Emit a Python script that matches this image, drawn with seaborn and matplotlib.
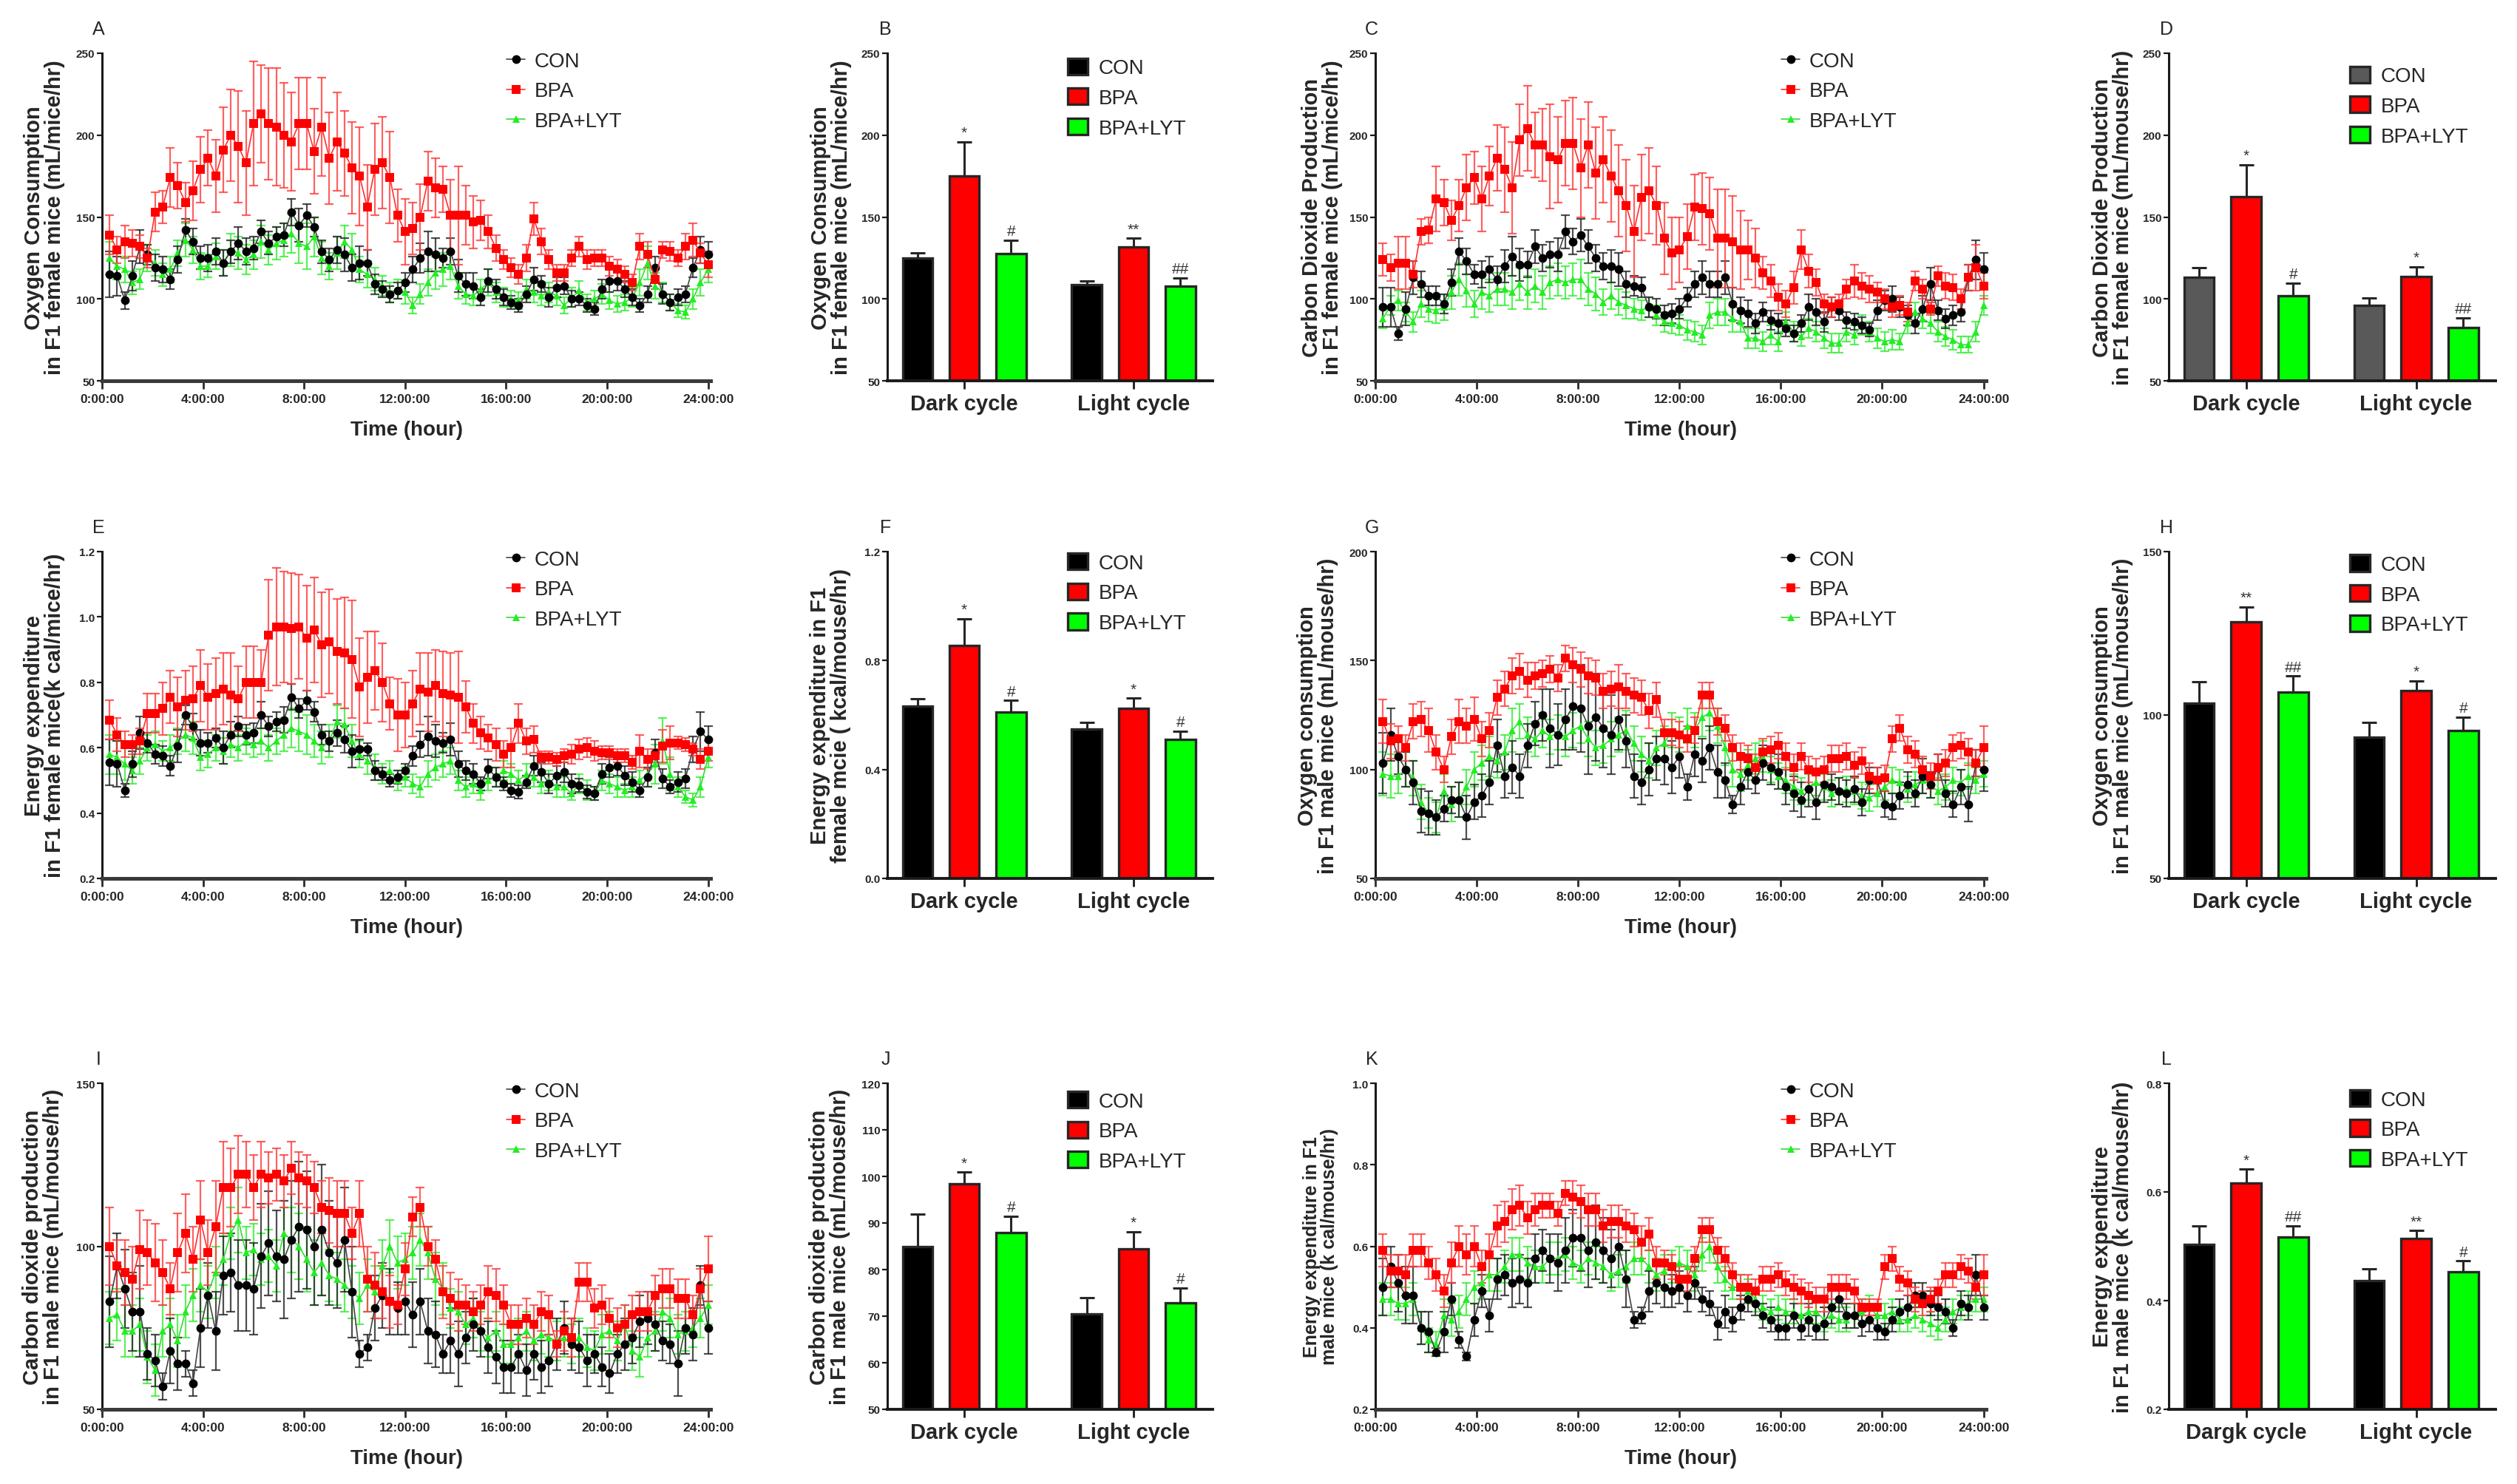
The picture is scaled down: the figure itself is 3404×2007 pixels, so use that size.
import numpy as np
import pandas as pd
import seaborn as sns
import matplotlib.pyplot as plt

sns.set_style('ticks')
plt.rcParams['font.family'] = ['Liberation Sans', 'DejaVu Sans']

groups = ['CON', 'BPA', 'BPA+LYT']
cycles = ['Dark cycle', 'Light cycle']
time_ticks = [0, 4, 8, 12, 16, 20, 24]
time_labels = ['0:00:00', '4:00:00', '8:00:00', '12:00:00', '16:00:00', '20:00:00', '24:00:00']

# sampling clock: one reading every 18 min over 24 h
hours = np.round(np.arange(1, 81) * 0.3, 1)

# ---- A: oxygen consumption, F1 female (mL/mice/hr) ----
a_con = [115,114,99,114,132,127,119,118,112,124,142,135,125,125,129,122,129,134,129,131,
         141,134,138,139,153,145,151,144,129,124,130,127,119,122,122,109,106,103,105,110,
         118,125,129,127,125,129,114,109,108,101,111,106,101,98,96,103,112,109,101,107,
         108,100,100,96,94,106,111,111,106,101,96,103,119,103,98,101,103,119,130,127]
a_con_err = [14,12,5,9,10,6,8,8,6,8,7,8,7,8,8,8,7,10,8,7,
             7,7,6,7,8,10,7,6,7,7,8,10,8,10,8,6,5,5,5,6,
             8,9,12,10,6,8,10,7,8,5,7,6,5,4,4,5,7,5,6,6,
             5,5,4,4,4,6,7,6,5,5,4,5,7,6,5,5,5,6,8,8]
a_bpa = [139,130,135,134,132,125,153,156,174,169,159,166,179,186,175,191,200,193,183,207,
         213,207,205,200,196,207,207,190,205,186,196,189,180,175,156,179,183,174,151,141,
         143,150,172,168,167,151,151,151,147,148,141,131,124,119,115,125,149,135,124,116,
         116,125,132,124,125,125,120,118,115,110,132,127,112,130,129,125,132,136,128,121]
a_bpa_err = [12,8,10,8,7,6,12,10,18,14,12,18,20,17,22,26,28,34,32,38,
             30,34,36,32,30,28,28,26,30,28,30,26,28,30,26,28,28,28,16,20,
             16,20,18,18,14,22,30,18,16,12,10,8,6,6,6,8,10,8,6,5,
             5,5,6,6,5,5,6,6,5,5,8,8,6,5,6,5,8,10,6,8]
a_lyt = [125,120,118,110,112,125,122,115,118,128,136,130,120,120,126,122,130,128,124,127,
         135,130,134,136,140,134,132,138,125,120,128,135,130,118,115,112,108,104,106,104,
         96,103,110,116,118,120,108,103,102,106,110,104,101,100,99,106,104,102,104,102,
         96,101,105,98,100,103,99,97,98,101,110,122,108,104,98,93,92,100,110,118]
a_lyt_err = [10,8,8,7,6,8,8,7,8,8,10,8,8,7,8,8,10,10,9,9,
             10,9,10,10,12,12,14,12,10,8,10,10,10,8,8,7,6,6,6,7,
             5,6,8,10,10,8,8,6,6,6,8,6,6,5,5,6,6,6,6,6,
             5,6,6,5,5,6,5,5,5,6,8,10,8,6,5,4,4,6,8,8]

# ---- C: carbon dioxide production, F1 female ----
c_con = [95,95,79,94,113,109,102,102,97,110,129,123,115,115,118,112,120,126,121,121,
         132,125,127,127,141,135,139,132,125,120,120,118,109,108,107,95,94,90,91,94,
         101,109,113,109,109,113,97,93,91,85,92,87,85,82,79,85,95,92,86,95,
         93,87,86,84,81,93,99,100,95,90,85,94,109,93,88,90,92,113,124,118]
c_con_err = [12,12,4,10,10,8,6,6,6,8,8,8,6,8,8,8,10,12,10,8,
             10,8,8,10,10,8,10,10,8,8,10,10,8,6,6,6,6,6,6,6,
             6,8,10,8,8,10,10,8,8,6,6,6,6,5,5,5,8,8,6,6,
             6,5,5,5,4,6,6,8,6,6,6,8,10,6,6,6,6,8,12,10]
c_bpa = [124,119,122,122,115,141,142,161,159,148,157,168,174,161,175,186,179,168,197,204,
         194,194,187,185,195,195,180,194,177,185,175,166,157,141,162,166,157,137,128,130,
         138,156,155,152,137,137,135,130,130,125,116,111,101,97,107,130,117,110,97,95,
         97,106,111,108,106,104,100,95,96,92,111,106,94,114,108,107,100,113,119,108]
c_bpa_err = [10,8,16,16,8,8,8,20,14,12,16,20,16,20,18,20,26,28,22,26,
             20,22,32,26,26,28,30,26,28,26,28,28,28,28,26,26,24,22,22,20,
             20,20,22,22,30,30,28,24,18,18,10,10,8,8,10,12,10,8,6,6,
             6,6,10,8,8,6,6,6,6,6,6,6,4,6,8,8,6,8,14,8]
c_lyt = [88,96,99,92,86,97,94,93,95,104,112,105,97,104,102,106,106,104,109,104,
         108,104,110,112,110,112,112,106,103,98,102,98,96,94,93,95,90,86,85,84,
         81,80,78,90,92,92,88,86,76,76,74,78,74,86,80,77,82,80,76,73,
         73,80,78,84,80,76,74,75,74,85,92,88,85,80,77,75,72,72,80,96]
c_lyt_err = [6,6,6,6,6,8,8,8,8,10,10,10,8,10,10,10,10,10,10,10,
             10,10,10,10,10,10,12,10,10,8,8,8,8,6,6,6,6,6,6,6,
             6,6,6,8,8,8,8,6,6,6,6,6,6,6,6,6,6,6,6,6,
             6,6,6,6,6,6,6,6,5,6,6,6,6,6,6,6,5,5,6,6]

# ---- E: energy expenditure, F1 female (k cal/mice/hr) ----
e_con = [0.555,0.55,0.47,0.55,0.645,0.615,0.58,0.575,0.545,0.605,0.70,0.665,0.615,0.615,0.63,0.60,0.64,0.665,0.64,0.645,
         0.70,0.665,0.68,0.685,0.755,0.72,0.745,0.71,0.64,0.62,0.645,0.625,0.59,0.595,0.595,0.53,0.52,0.50,0.51,0.53,
         0.575,0.61,0.635,0.62,0.615,0.625,0.55,0.53,0.52,0.49,0.535,0.51,0.49,0.47,0.465,0.495,0.545,0.525,0.49,0.515,
         0.525,0.49,0.485,0.465,0.46,0.52,0.54,0.545,0.515,0.495,0.47,0.51,0.585,0.505,0.48,0.495,0.505,0.595,0.65,0.625]
e_con_err = [0.07,0.07,0.02,0.04,0.05,0.03,0.03,0.03,0.03,0.05,0.03,0.04,0.04,0.03,0.03,0.05,0.04,0.03,0.03,0.03,
             0.04,0.03,0.03,0.04,0.04,0.03,0.03,0.03,0.03,0.03,0.04,0.04,0.05,0.03,0.02,0.03,0.02,0.02,0.02,0.02,
             0.03,0.04,0.06,0.05,0.03,0.05,0.04,0.03,0.03,0.02,0.03,0.03,0.02,0.02,0.02,0.02,0.03,0.03,0.03,0.03,
             0.03,0.03,0.02,0.02,0.02,0.03,0.03,0.03,0.03,0.03,0.02,0.03,0.04,0.03,0.02,0.03,0.03,0.04,0.06,0.04]
e_bpa = [0.685,0.64,0.61,0.61,0.62,0.705,0.705,0.72,0.755,0.725,0.745,0.75,0.79,0.755,0.765,0.78,0.76,0.75,0.80,0.80,
         0.80,0.945,0.97,0.97,0.965,0.97,0.935,0.96,0.915,0.925,0.895,0.89,0.87,0.785,0.815,0.835,0.80,0.735,0.70,0.70,
         0.735,0.78,0.77,0.79,0.765,0.76,0.755,0.725,0.675,0.645,0.63,0.61,0.58,0.60,0.675,0.62,0.625,0.57,0.57,0.565,
         0.575,0.58,0.595,0.60,0.59,0.585,0.585,0.575,0.575,0.555,0.59,0.565,0.575,0.605,0.615,0.615,0.61,0.595,0.565,0.59]
e_bpa_err = [0.06,0.05,0.04,0.03,0.04,0.06,0.06,0.08,0.08,0.09,0.09,0.10,0.11,0.10,0.11,0.11,0.13,0.10,0.11,0.11,
             0.10,0.17,0.18,0.17,0.17,0.16,0.16,0.16,0.16,0.16,0.16,0.17,0.18,0.15,0.14,0.12,0.12,0.08,0.11,0.10,
             0.10,0.11,0.12,0.11,0.13,0.13,0.14,0.08,0.06,0.05,0.04,0.05,0.04,0.06,0.06,0.04,0.04,0.02,0.02,0.02,
             0.02,0.03,0.03,0.03,0.03,0.02,0.02,0.02,0.02,0.02,0.05,0.03,0.02,0.05,0.05,0.02,0.02,0.02,0.03,0.03]
e_lyt = [0.58,0.57,0.55,0.53,0.56,0.60,0.61,0.59,0.60,0.62,0.64,0.63,0.57,0.58,0.60,0.59,0.61,0.60,0.62,0.61,
         0.62,0.60,0.62,0.64,0.66,0.65,0.64,0.62,0.60,0.62,0.68,0.67,0.62,0.58,0.56,0.54,0.52,0.53,0.50,0.51,
         0.49,0.48,0.52,0.54,0.55,0.56,0.50,0.48,0.49,0.47,0.50,0.51,0.53,0.52,0.50,0.52,0.51,0.49,0.50,0.48,
         0.48,0.46,0.49,0.47,0.46,0.50,0.49,0.48,0.47,0.48,0.50,0.52,0.55,0.62,0.52,0.48,0.45,0.44,0.48,0.57]
e_lyt_err = [0.06,0.05,0.05,0.04,0.04,0.04,0.04,0.03,0.04,0.04,0.05,0.05,0.04,0.04,0.04,0.04,0.04,0.04,0.04,0.04,
             0.04,0.04,0.04,0.05,0.06,0.06,0.06,0.05,0.05,0.05,0.05,0.05,0.05,0.04,0.04,0.04,0.03,0.03,0.03,0.03,
             0.03,0.03,0.04,0.04,0.04,0.04,0.03,0.03,0.03,0.03,0.03,0.03,0.03,0.03,0.03,0.03,0.03,0.03,0.03,0.03,
             0.03,0.02,0.03,0.03,0.02,0.03,0.03,0.03,0.02,0.03,0.03,0.04,0.06,0.07,0.05,0.03,0.02,0.02,0.03,0.03]

# ---- G: oxygen consumption, F1 male (mL/mouse/hr) ----
g_con = [103,116,106,100,94,81,80,78,82,86,86,78,85,88,94,111,97,101,97,111,
         121,125,119,116,123,129,128,120,124,119,116,123,113,97,94,100,105,105,101,106,
         92,107,104,110,99,95,84,92,99,95,103,101,99,92,89,86,91,85,93,92,
         90,89,91,85,95,95,84,83,88,93,89,97,93,101,89,84,92,84,103,100]
g_con_err = [14,12,8,8,10,10,10,8,6,6,8,10,8,10,10,12,10,12,10,10,
             10,12,18,14,14,20,20,22,20,18,18,14,12,10,10,12,10,12,12,10,
             6,10,10,10,12,8,4,8,8,6,8,8,8,8,8,8,8,8,8,6,
             6,6,6,6,6,6,6,6,6,6,6,8,6,6,6,6,8,8,6,10]
g_bpa = [122,113,114,110,122,123,118,108,100,115,122,120,123,114,118,133,137,143,145,141,
         143,144,146,142,151,148,146,143,142,136,137,138,136,134,133,127,132,117,117,116,
         114,118,134,134,122,119,110,106,105,101,108,109,111,106,101,106,100,99,100,105,
         105,106,102,104,97,95,96,114,119,109,107,100,97,101,103,110,111,108,103,110]
g_bpa_err = [10,8,6,6,8,8,10,8,6,8,10,8,10,8,8,8,8,8,8,8,
             6,6,6,6,6,8,8,8,8,8,8,10,8,8,8,8,8,6,6,6,
             6,6,6,6,6,6,6,6,6,6,6,6,6,6,6,6,6,6,6,6,
             6,6,6,6,6,6,6,6,6,6,6,6,6,6,6,6,6,6,6,10]
g_lyt = [98,97,97,100,96,85,80,78,90,84,86,92,100,103,106,104,108,118,122,116,
         114,118,115,117,115,118,120,114,110,111,114,116,118,112,107,104,110,112,118,116,
         120,118,124,126,120,110,100,98,102,105,106,100,97,95,92,90,92,94,92,89,
         90,91,90,88,87,89,92,95,94,91,93,95,93,90,92,95,94,97,95,98]
g_lyt_err = [10,10,8,8,8,8,7,7,8,8,8,8,8,8,9,8,8,10,8,8,
             8,8,8,8,9,8,8,8,8,8,8,8,9,8,8,8,8,8,8,8,
             8,8,9,8,8,8,8,8,7,7,7,6,6,6,6,6,6,6,6,6,
             6,6,6,6,6,6,6,6,6,6,6,6,6,6,6,6,6,6,6,6]

# ---- I: carbon dioxide production, F1 male ----
i_con = [83,94,87,80,80,67,65,57,68,64,64,58,75,85,74,91,92,88,88,87,
         97,101,97,96,102,106,105,100,105,98,95,102,86,67,69,81,85,83,81,83,
         79,83,74,73,67,71,67,72,76,74,69,66,63,63,67,62,67,63,65,70,
         75,70,69,65,67,63,61,67,70,72,77,78,76,71,70,64,75,73,88,75]
i_con_err = [14,10,12,12,14,8,8,4,10,8,4,4,12,10,12,12,12,14,14,14,
             16,16,14,18,18,20,18,18,20,16,14,16,14,4,4,10,10,10,8,10,
             10,10,10,10,6,10,10,8,8,8,8,8,8,8,6,8,8,8,8,8,
             8,8,8,8,6,6,6,6,8,8,8,8,8,6,6,10,8,8,6,8]
i_bpa = [100,94,92,90,99,98,95,92,87,98,104,96,108,98,106,118,118,122,122,118,
         122,121,122,120,124,121,120,118,112,111,110,110,104,110,90,88,86,83,82,93,
         109,112,100,96,86,84,82,82,80,82,86,85,82,76,76,78,76,80,79,70,
         74,72,89,89,81,82,78,75,76,79,80,80,85,87,87,84,84,79,87,93]
i_bpa_err = [12,8,10,10,12,10,12,10,8,12,12,10,12,10,14,14,12,12,10,10,
             10,8,8,8,8,8,8,8,8,10,10,10,8,10,10,10,8,8,6,8,
             6,6,6,6,8,8,8,6,6,6,8,8,6,6,6,6,6,6,6,4,
             6,6,6,6,6,6,6,6,6,6,6,6,6,6,6,6,6,6,6,10]
i_lyt = [78,79,74,74,76,66,62,74,76,71,80,85,88,86,92,96,104,108,98,99,
         96,97,94,104,102,100,96,92,95,91,90,88,86,84,88,86,94,100,95,96,
         98,102,98,90,87,81,80,76,78,74,72,74,70,70,72,74,71,73,72,71,
         72,70,72,69,68,73,74,71,76,68,66,72,74,80,78,73,74,75,78,82]
i_lyt_err = [8,8,8,8,8,8,8,8,8,8,8,8,8,8,8,8,8,10,8,8,
             8,8,8,8,10,10,10,10,10,8,8,8,8,8,8,8,8,8,8,8,
             8,8,8,8,8,6,6,6,6,6,6,6,6,6,6,6,6,6,6,6,
             6,6,6,6,6,6,6,6,6,6,6,6,6,6,6,6,6,6,6,6]

# ---- K: energy expenditure, F1 male (k cal/mouse/hr) ----
k_con = [0.50,0.55,0.51,0.48,0.48,0.40,0.39,0.34,0.39,0.47,0.37,0.33,0.42,0.49,0.43,0.52,0.53,0.51,0.52,0.51,
         0.57,0.59,0.57,0.56,0.59,0.62,0.62,0.59,0.61,0.59,0.57,0.60,0.52,0.42,0.43,0.49,0.51,0.50,0.49,0.50,
         0.48,0.51,0.47,0.46,0.41,0.44,0.42,0.45,0.47,0.46,0.43,0.42,0.40,0.40,0.43,0.40,0.42,0.40,0.41,0.45,
         0.47,0.43,0.43,0.41,0.42,0.40,0.39,0.42,0.44,0.45,0.48,0.48,0.46,0.45,0.44,0.40,0.46,0.45,0.53,0.45]
k_con_err = [0.07,0.05,0.07,0.07,0.07,0.04,0.05,0.01,0.05,0.04,0.02,0.01,0.04,0.04,0.04,0.05,0.05,0.06,0.06,0.06,
             0.06,0.05,0.06,0.07,0.08,0.07,0.08,0.09,0.09,0.08,0.07,0.07,0.07,0.02,0.02,0.05,0.05,0.05,0.04,0.04,
             0.04,0.04,0.03,0.03,0.04,0.04,0.03,0.03,0.03,0.03,0.03,0.03,0.03,0.03,0.03,0.03,0.04,0.03,0.04,0.04,
             0.03,0.03,0.03,0.03,0.03,0.03,0.02,0.03,0.03,0.03,0.03,0.03,0.03,0.03,0.03,0.02,0.03,0.03,0.05,0.03]
k_bpa = [0.59,0.54,0.54,0.53,0.59,0.59,0.56,0.53,0.49,0.56,0.60,0.58,0.60,0.55,0.58,0.65,0.66,0.69,0.70,0.67,
         0.69,0.70,0.70,0.68,0.73,0.72,0.71,0.69,0.69,0.65,0.66,0.66,0.65,0.64,0.61,0.63,0.56,0.56,0.55,0.52,
         0.52,0.57,0.64,0.64,0.59,0.57,0.53,0.50,0.50,0.49,0.52,0.52,0.53,0.51,0.50,0.49,0.48,0.47,0.47,0.50,
         0.50,0.50,0.49,0.45,0.45,0.45,0.55,0.57,0.52,0.51,0.47,0.46,0.47,0.49,0.53,0.53,0.55,0.54,0.50,0.53]
k_bpa_err = [0.04,0.04,0.04,0.05,0.04,0.04,0.04,0.04,0.04,0.05,0.05,0.05,0.05,0.04,0.05,0.05,0.05,0.05,0.05,0.04,
             0.04,0.03,0.03,0.03,0.03,0.04,0.04,0.04,0.04,0.04,0.04,0.04,0.04,0.04,0.04,0.04,0.04,0.03,0.03,0.03,
             0.03,0.03,0.03,0.03,0.03,0.03,0.03,0.03,0.03,0.03,0.03,0.03,0.03,0.03,0.03,0.03,0.03,0.03,0.03,0.03,
             0.03,0.03,0.03,0.02,0.02,0.02,0.03,0.03,0.03,0.03,0.03,0.03,0.03,0.03,0.03,0.03,0.03,0.03,0.03,0.05]
k_lyt = [0.47,0.47,0.46,0.46,0.47,0.40,0.37,0.36,0.43,0.42,0.44,0.47,0.50,0.51,0.53,0.53,0.55,0.58,0.58,0.56,
         0.55,0.55,0.57,0.57,0.58,0.56,0.55,0.57,0.56,0.55,0.53,0.54,0.55,0.57,0.57,0.55,0.53,0.54,0.55,0.56,
         0.55,0.53,0.58,0.60,0.55,0.52,0.50,0.50,0.49,0.47,0.45,0.44,0.45,0.44,0.44,0.43,0.44,0.44,0.42,0.43,
         0.42,0.42,0.43,0.44,0.45,0.43,0.43,0.44,0.42,0.42,0.43,0.42,0.41,0.40,0.42,0.44,0.45,0.46,0.47,0.47]
k_lyt_err = [0.04,0.04,0.04,0.04,0.04,0.04,0.03,0.03,0.04,0.04,0.04,0.04,0.04,0.04,0.04,0.04,0.04,0.04,0.04,0.04,
             0.04,0.04,0.04,0.04,0.04,0.04,0.04,0.04,0.04,0.04,0.04,0.04,0.04,0.04,0.04,0.04,0.04,0.04,0.04,0.04,
             0.04,0.04,0.04,0.04,0.04,0.03,0.03,0.03,0.03,0.03,0.03,0.03,0.03,0.03,0.03,0.03,0.03,0.03,0.03,0.03,
             0.03,0.03,0.03,0.03,0.03,0.03,0.03,0.03,0.03,0.03,0.03,0.03,0.03,0.03,0.03,0.03,0.03,0.03,0.03,0.03]

# ---- bar panels: [dark, light] ----
b_con, b_con_err = [125, 108.5], [3, 2.5]
b_bpa, b_bpa_err = [175, 131.5], [21, 5.5]
b_lyt, b_lyt_err = [127.5, 107.7], [8.5, 5]
b_marks = [['', ''], ['*', '**'], ['#', '##']]

d_con, d_con_err = [113, 96], [6, 4.5]
d_bpa, d_bpa_err = [162.5, 113.5], [19.5, 6]
d_lyt, d_lyt_err = [102, 82.5], [7.7, 6]
d_marks = [['', ''], ['*', '*'], ['#', '##']]

f_con, f_con_err = [0.633, 0.548], [0.027, 0.024]
f_bpa, f_bpa_err = [0.856, 0.625], [0.098, 0.037]
f_lyt, f_lyt_err = [0.611, 0.511], [0.042, 0.03]
f_marks = [['', ''], ['*', '*'], ['#', '#']]

h_con, h_con_err = [103.6, 93.1], [6.5, 4.7]
h_bpa, h_bpa_err = [128.6, 107.4], [4.5, 3]
h_lyt, h_lyt_err = [107.1, 95.2], [4.8, 4.2]
h_marks = [['', ''], ['**', '*'], ['##', '#']]

j_con, j_con_err = [84.9, 70.5], [7, 3.5]
j_bpa, j_bpa_err = [98.4, 84.4], [2.5, 3.7]
j_lyt, j_lyt_err = [88, 72.9], [3.4, 3.1]
j_marks = [['', ''], ['*', '*'], ['#', '#']]

l_con, l_con_err = [0.503, 0.437], [0.034, 0.021]
l_bpa, l_bpa_err = [0.616, 0.514], [0.026, 0.015]
l_lyt, l_lyt_err = [0.517, 0.453], [0.021, 0.02]
l_marks = [['', ''], ['*', '**'], ['##', '#']]

W, H = 3404, 2008
fig = plt.figure(figsize=(W / 100, H / 100), dpi=100)

cols = [(138, 823), (1200, 440), (1860, 826), (2933, 442)]
rows = [(73, 443), (747, 442), (1466, 441)]


def make_ax(r, c):
    x, w = cols[c]
    top, h = rows[r]
    return fig.add_axes([x / W, 1 - (top + h) / H, w / W, h / H])


def style_y(ax, ylim, yticks, fmt, ylabel, lab_x, lab_size=21):
    ax.set_ylim(*ylim)
    ax.set_yticks(yticks, labels=[fmt.format(v) for v in yticks], fontsize=11, fontweight='bold')
    ax.set_ylabel(ylabel, fontsize=lab_size, fontweight='bold', linespacing=1.0)
    ax.yaxis.set_label_coords(lab_x, 0.5)
    sns.despine(ax=ax)
    ax.spines['left'].set_linewidth(2.2)
    ax.spines['left'].set_color('#1a1a1a')
    ax.tick_params(axis='y', length=5, width=1.6, pad=2, color='#1a1a1a')


def letter(ax, txt):
    ax.text(-0.006, 1.075, txt, transform=ax.transAxes, fontsize=18, ha='center', va='center')


series_style = {
    'CON': dict(line='#444444', face='black', marker='o', ms=8.5, ecol='#222222'),
    'BPA': dict(line='#ff3030', face='#ff0000', marker='s', ms=8, ecol='#ff3a3a'),
    'BPA+LYT': dict(line='#33dd33', face='#22ee22', marker='^', ms=7, ecol='#33ee33'),
}


def time_panel(ax, data, ylim, yticks, fmt, ylabel, lab_x, lab_size=21):
    # draw green first, then black, then red on top
    for z, name in enumerate(['BPA+LYT', 'CON', 'BPA']):
        vals, err = data[name]
        st = series_style[name]
        t = hours[:len(vals)]
        ax.errorbar(t, vals, yerr=err, fmt='none', ecolor=st['ecol'], elinewidth=1.6,
                    capsize=4, capthick=1.6, alpha=0.8, zorder=2 + z, clip_on=False)
        sns.lineplot(x=t, y=vals, ax=ax, color=st['line'], marker=st['marker'],
                     markersize=st['ms'], markerfacecolor=st['face'], markeredgecolor=st['face'],
                     markeredgewidth=0, linewidth=1.2, label=name, errorbar=None,
                     zorder=5 + z, clip_on=False)
    ax.set_xlim(0, 24.1)
    ax.set_xticks(time_ticks, labels=time_labels, fontsize=12.5, fontweight='bold')
    ax.set_xlabel('Time (hour)', fontsize=20, fontweight='bold')
    ax.xaxis.set_label_coords(0.5, -0.12)
    style_y(ax, ylim, yticks, fmt, ylabel, lab_x, lab_size)
    ax.spines['bottom'].set_linewidth(3.6)
    ax.spines['bottom'].set_color('#3a3a3a')
    ax.tick_params(axis='x', length=8, width=2, pad=4, color='#2a2a2a')
    hand, labs = ax.get_legend_handles_labels()
    order = [labs.index(g) for g in groups]
    ax.legend([hand[i] for i in order], groups, loc='upper left', bbox_to_anchor=(0.665, 1.005),
              frameon=False, fontsize=20, handlelength=0.9, handletextpad=0.45,
              labelspacing=0.52, borderpad=0, borderaxespad=0)


def bar_panel(ax, vals, errs, marks, ylim, yticks, fmt, ylabel, lab_x, leg_y,
              con_color='black', xlabels=cycles):
    df = pd.DataFrame({'cycle': cycles * 3,
                       'group': [g for g in groups for _ in cycles],
                       'value': vals[0] + vals[1] + vals[2]})
    pal = {'CON': con_color, 'BPA': '#ff0000', 'BPA+LYT': '#00ff00'}
    sns.barplot(data=df, x='cycle', y='value', hue='group', hue_order=groups, order=cycles,
                palette=pal, width=0.83, gap=0.36, edgecolor='#262626', linewidth=2.4,
                errorbar=None, saturation=1, ax=ax)
    conts = list(ax.containers)[:3]
    for cont, err, mk in zip(conts, errs, marks):
        for bar, e, m in zip(cont, err, mk):
            xc = bar.get_x() + bar.get_width() / 2
            top = bar.get_height()
            ax.errorbar(xc, top, yerr=[[0], [e]], fmt='none', ecolor='#262626',
                        elinewidth=2.2, capsize=7, capthick=2.2, zorder=4)
            if m:
                ax.annotate(m, (xc, top + e), xytext=(0, 2), textcoords='offset points',
                            ha='center', va='bottom', fontsize=15, color='#333333')
    ax.set_xlim(-0.455, 1.467)
    ax.set_xticks([0, 1], labels=xlabels, fontsize=21, fontweight='bold')
    ax.set_xlabel('')
    style_y(ax, ylim, yticks, fmt, ylabel, lab_x)
    ax.spines['bottom'].set_linewidth(2.8)
    ax.spines['bottom'].set_color('#1a1a1a')
    ax.tick_params(axis='x', length=8, width=2, pad=4, color='#1a1a1a')
    hand, labs = ax.get_legend_handles_labels()
    ax.legend(hand[:3], labs[:3], loc='upper left', bbox_to_anchor=(0.555, leg_y),
              frameon=False, fontsize=20, handlelength=0.95, handleheight=0.85,
              handletextpad=0.55, labelspacing=0.5, borderpad=0, borderaxespad=0)


# row 1
ax = make_ax(0, 0)
time_panel(ax, {'CON': (a_con, a_con_err), 'BPA': (a_bpa, a_bpa_err), 'BPA+LYT': (a_lyt, a_lyt_err)},
           (50, 250), [50, 100, 150, 200, 250], '{:d}',
           'Oxygen Consumption\nin F1 female mice (mL/mice/hr)', -0.061)
letter(ax, 'A')

ax = make_ax(0, 1)
bar_panel(ax, [b_con, b_bpa, b_lyt], [b_con_err, b_bpa_err, b_lyt_err], b_marks,
          (50, 250), [50, 100, 150, 200, 250], '{:d}',
          'Oxygen Consumption\nin F1 female mice (mL/mice/hr)', -0.109, 0.985)
letter(ax, 'B')

ax = make_ax(0, 2)
time_panel(ax, {'CON': (c_con, c_con_err), 'BPA': (c_bpa, c_bpa_err), 'BPA+LYT': (c_lyt, c_lyt_err)},
           (50, 250), [50, 100, 150, 200, 250], '{:d}',
           'Carbon Dioxide Production\nin F1 female mice (mL/mice/hr)', -0.053)
letter(ax, 'C')

ax = make_ax(0, 3)
bar_panel(ax, [d_con, d_bpa, d_lyt], [d_con_err, d_bpa_err, d_lyt_err], d_marks,
          (50, 250), [50, 100, 150, 200, 250], '{:d}',
          'Carbon Dioxide Production\nin F1 female mice (mL/mouse/hr)', -0.109, 0.96,
          con_color='#595959')
letter(ax, 'D')

# row 2
ax = make_ax(1, 0)
time_panel(ax, {'CON': (e_con, e_con_err), 'BPA': (e_bpa, e_bpa_err), 'BPA+LYT': (e_lyt, e_lyt_err)},
           (0.2, 1.2), [0.2, 0.4, 0.6, 0.8, 1.0, 1.2], '{:.1f}',
           'Energy expenditure\nin F1 female mice(k cal/mice/hr)', -0.061)
letter(ax, 'E')

ax = make_ax(1, 1)
bar_panel(ax, [f_con, f_bpa, f_lyt], [f_con_err, f_bpa_err, f_lyt_err], f_marks,
          (0.0, 1.2), [0.0, 0.4, 0.8, 1.2], '{:.1f}',
          'Energy expenditure in F1\nfemale mcie ( kcal/mouse/hr)', -0.111, 0.995)
letter(ax, 'F')

ax = make_ax(1, 2)
time_panel(ax, {'CON': (g_con, g_con_err), 'BPA': (g_bpa, g_bpa_err), 'BPA+LYT': (g_lyt, g_lyt_err)},
           (50, 200), [50, 100, 150, 200], '{:d}',
           'Oxygen consumption\nin F1 male mice (mL/mouse/hr)', -0.061)
letter(ax, 'G')

ax = make_ax(1, 3)
bar_panel(ax, [h_con, h_bpa, h_lyt], [h_con_err, h_bpa_err, h_lyt_err], h_marks,
          (50, 150), [50, 100, 150], '{:d}',
          'Oxygen consumption\nin F1 male mice (mL/mouse/hr)', -0.109, 0.99)
letter(ax, 'H')

# row 3
ax = make_ax(2, 0)
time_panel(ax, {'CON': (i_con, i_con_err), 'BPA': (i_bpa, i_bpa_err), 'BPA+LYT': (i_lyt, i_lyt_err)},
           (50, 150), [50, 100, 150], '{:d}',
           'Carbon dioxide production\nin F1 male mice (mL/mouse/hr)', -0.063)
letter(ax, 'I')

ax = make_ax(2, 1)
bar_panel(ax, [j_con, j_bpa, j_lyt], [j_con_err, j_bpa_err, j_lyt_err], j_marks,
          (50, 120), [50, 60, 70, 80, 90, 100, 110, 120], '{:d}',
          'Carbon dioxide production\nin F1 male mice (mL/mouse/hr)', -0.114, 0.975)
letter(ax, 'J')

ax = make_ax(2, 2)
time_panel(ax, {'CON': (k_con, k_con_err), 'BPA': (k_bpa, k_bpa_err), 'BPA+LYT': (k_lyt, k_lyt_err)},
           (0.2, 1.0), [0.2, 0.4, 0.6, 0.8, 1.0], '{:.1f}',
           'Energy expenditure in F1\nmale mice (k cal/mouse/hr)', -0.06, lab_size=18)
letter(ax, 'K')

ax = make_ax(2, 3)
bar_panel(ax, [l_con, l_bpa, l_lyt], [l_con_err, l_bpa_err, l_lyt_err], l_marks,
          (0.2, 0.8), [0.2, 0.4, 0.6, 0.8], '{:.1f}',
          'Energy expenditure\nin F1 male mice (k cal/mouse/hr)', -0.109, 0.98,
          xlabels=['Dargk cycle', 'Light cycle'])
letter(ax, 'L')

fig.savefig('out.png', dpi=100)
